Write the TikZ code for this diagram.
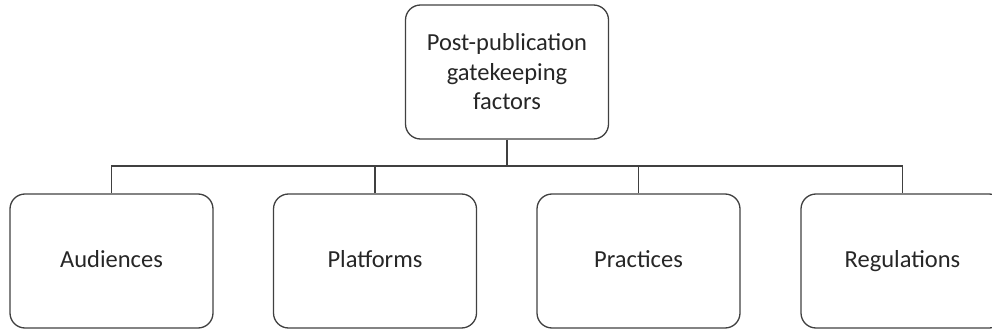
\documentclass[tikz,border=0pt]{standalone}
\usepackage{fontspec}
\setmainfont{Carlito}
\begin{document}
\begin{tikzpicture}[x=1pt,y=-1pt,
  box/.style={draw=black!75, line width=1.3pt, rounded corners=15pt, minimum width=203pt, minimum height=134pt, inner sep=0pt, align=center, text=black!85, font=\fontsize{24.5}{29.5}\selectfont},
  leaf/.style={box, text height=18pt, text depth=5pt},
  link/.style={draw=black!75, line width=1.3pt}]
\useasboundingbox (0,0) rectangle (992,331);
\clip (0,0) rectangle (992,331);
\node[box] (top) at (507,72) {Post-publication\\gatekeeping\\factors};
\node[leaf] (a) at (111.5,261) {Audiences};
\node[leaf] (b) at (375,261) {Platforms};
\node[leaf] (c) at (638.5,261) {Practices};
\node[leaf] (d) at (902.5,261) {Regulations};
\coordinate (bus) at (507,166);
\draw[link] (top.south) -- (bus);
\draw[link] (a.north) |- (bus) -| (d.north);
\draw[link] (b.north) -- (b.north |- bus);
\draw[link] (c.north) -- (c.north |- bus);
\end{tikzpicture}
\end{document}
